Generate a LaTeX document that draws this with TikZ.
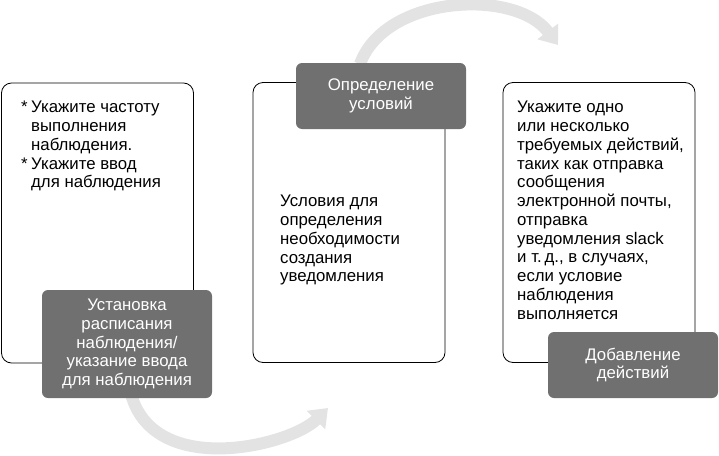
\documentclass[tikz,border=0pt]{standalone}
\usepackage{fontspec}
\setmainfont{Liberation Sans}
\usetikzlibrary{arrows.meta}

\begin{document}
\begin{tikzpicture}[x=1pt, y=-1pt, font=\fontsize{16.8}{18.75}\selectfont,
        frame/.style={draw, line width=0.8pt, rounded corners=10pt, minimum width=192pt, minimum height=280pt, inner sep=0pt},
        tab/.style={fill=black!56, text=white, rounded corners=6pt, align=center, minimum width=170pt, inner sep=0pt},
        txt/.style={anchor=north west, align=left, inner sep=0pt},
        flow/.style={draw=black!11, line width=12pt, -{Triangle[width=25pt, length=17pt]}}]
        \useasboundingbox (0,0) rectangle (719,455);
        % the two grey sweeps behind the boxes
        \coordinate (s1) at (130,390);
        \coordinate (e1) at (328,408);
        \coordinate (s2) at (360,64);
        \coordinate (e2) at (558,45);
        \draw[flow] (s1) .. controls (150,480) and (290,446) .. (e1);
        \draw[flow] (s2) .. controls (385,-5) and (515,-12) .. (e2);
        % white frames
        \node[frame, fill=white] (A) at (97.5,223) {};
        \node[frame, fill=white] (B) at (349,222.5) {};
        \node[frame, fill=white] (C) at (599,222.5) {};
        % frame texts
        \node[txt] (a) at (21,101) {\makebox[10pt][l]{*}Укажите частоту\\
            \hspace*{10pt}выполнения\\
            \hspace*{10pt}наблюдения.\\
            \makebox[10pt][l]{*}Укажите ввод\\
            \hspace*{10pt}для наблюдения};
        \node[txt] (b) at (280,195) {Условия для\\ определения\\ необходимости\\ создания\\ уведомления};
        \node[txt] (c) at (517,101) {Укажите одно\\ или несколько\\ требуемых действий,\\ таких как отправка\\ сообщения\\ электронной почты,\\ отправка\\ уведомления slack\\ и т.\,д., в случаях,\\ если условие\\ наблюдения\\ выполняется};
        % dark tabs
        \node[tab, minimum height=108pt] (P) at (127,344) {Установка\\ расписания\\ наблюдения/\\ указание ввода\\ для наблюдения};
        \node[tab, minimum height=66pt] (Q) at (381,96) {Определение\\ условий};
        \node[tab, minimum height=66pt] (R) at (633,365) {Добавление\\ действий};
    \end{tikzpicture}
\end{document}
